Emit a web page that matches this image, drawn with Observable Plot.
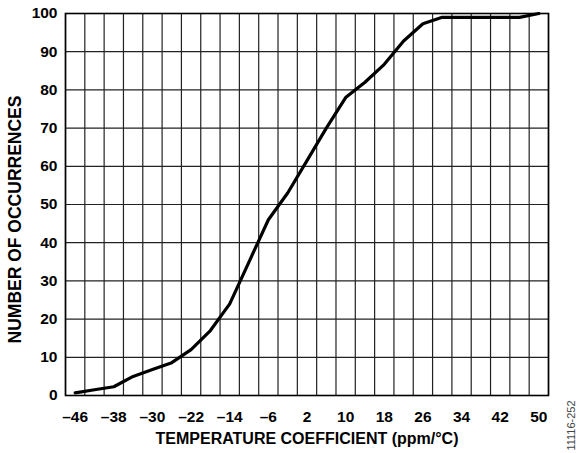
<!DOCTYPE html>
<html>
<head>
<meta charset="utf-8">
<script src="https://cdn.jsdelivr.net/npm/d3@7"></script>
<script src="https://cdn.jsdelivr.net/npm/@observablehq/plot@0.6"></script>
<style>
  html, body { margin: 0; padding: 0; background: #fff; }
</style>
</head>
<body>
<div id="chart"></div>
<script>
const tempCoeff = [-46, -42, -38, -34, -30, -26, -22, -18, -14, -10, -6, -2, 2, 6, 10, 14, 18, 22, 26, 30, 34, 38, 42, 46, 50];
const occurrences = [0.7, 1.5, 2.3, 5, 6.8, 8.6, 12, 17, 24, 35, 46, 53, 61.5, 70, 78, 82, 86.7, 92.8, 97.3, 99, 99, 99, 99, 99, 100];
const xTickLabels = [-46, -38, -30, -22, -14, -6, 2, 10, 18, 26, 34, 42, 50];
const yTickLabels = [0, 10, 20, 30, 40, 50, 60, 70, 80, 90, 100];
const xGridLines = [-48, -44, -40, -36, -32, -28, -24, -20, -16, -12, -8, -4, 0, 4, 8, 12, 16, 20, 24, 28, 32, 36, 40, 44, 48, 52];
const xTitle = "TEMPERATURE COEFFICIENT (ppm/°C)";
const yTitle = "NUMBER OF OCCURRENCES";
const figId = "11116-252";

const data = tempCoeff.map((t, i) => ({t, n: occurrences[i]}));
const fmt = d => d < 0 ? "\u2013" + Math.abs(d) : String(d);

const chart = Plot.plot({
  width: 579,
  height: 453,
  marginLeft: 65,
  marginRight: 31,
  marginTop: 13,
  marginBottom: 58,
  style: {fontFamily: "'Liberation Sans', Arial, sans-serif", fontWeight: "bold", fontSize: "15px", color: "#000", background: "#fff"},
  x: {domain: [-48, 52]},
  y: {domain: [0, 100]},
  marks: [
    Plot.gridX(xGridLines, {stroke: "#222", strokeOpacity: 1, strokeWidth: 1.2}),
    Plot.gridY(yTickLabels, {stroke: "#222", strokeOpacity: 1, strokeWidth: 1.2}),
    Plot.axisX(xTickLabels, {tickSize: 0, tickPadding: 15, tickFormat: fmt, label: null, fontSize: 15.5, fontWeight: "bold"}),
    Plot.axisY(yTickLabels, {tickSize: 0, tickPadding: 8, label: null, fontSize: 15.5, fontWeight: "bold"}),
    Plot.frame({stroke: "#000", strokeWidth: 1.6}),
    Plot.line(data, {x: "t", y: "n", stroke: "#000", strokeWidth: 3.2, strokeLinejoin: "round"}),
    Plot.text([xTitle], {frameAnchor: "bottom", dy: 43, lineAnchor: "middle", textAnchor: "middle", fontSize: 16, fontWeight: "bold"}),
    Plot.text([yTitle], {frameAnchor: "left", dx: -50, dy: 15, rotate: -90, lineAnchor: "middle", textAnchor: "middle", fontSize: 17.5, fontWeight: "bold"}),
    Plot.text([figId], {frameAnchor: "bottom-right", dx: 23, dy: 30, rotate: -90, lineAnchor: "middle", textAnchor: "middle", fontSize: 11, fontWeight: "normal", fill: "#444"})
  ]
});
document.getElementById("chart").appendChild(chart);
</script>
</body>
</html>
